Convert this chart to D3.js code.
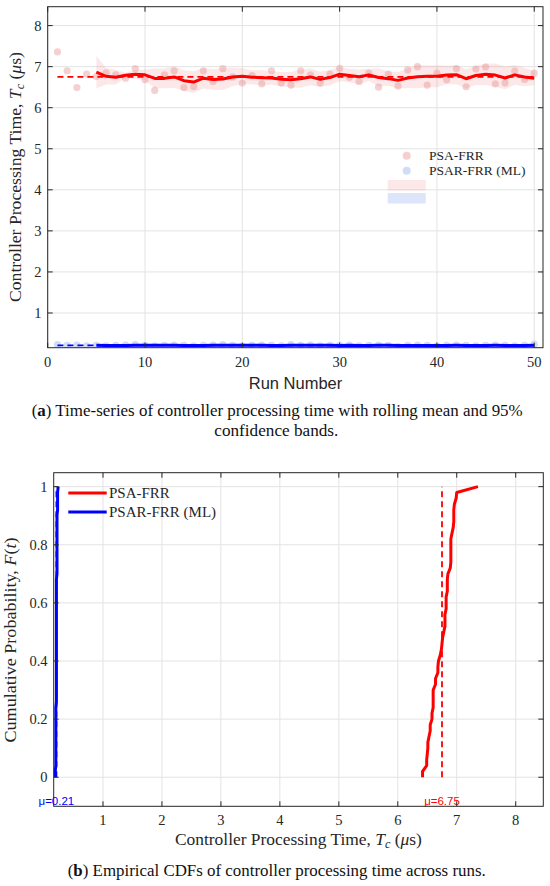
<!DOCTYPE html>
<html><head><meta charset="utf-8">
<script src="https://cdn.jsdelivr.net/npm/d3@7"></script>
<style>body{margin:0;background:#fff}svg{display:block}</style>
</head><body>
<svg id="c" width="550" height="886"></svg>
<script>
// ---- data ----
const runs = d3.range(1, 51);
const psaFRR = [7.36,6.90,6.49,6.82,6.76,6.85,6.80,6.72,6.95,6.68,
                6.42,6.80,6.90,6.49,6.51,6.90,6.64,6.95,6.75,6.60,
                6.78,6.58,6.90,6.60,6.55,6.90,6.80,6.60,6.82,6.96,
                6.74,6.64,6.84,6.50,6.82,6.53,6.92,7.00,6.55,6.84,
                6.68,6.95,6.51,6.94,6.99,6.58,6.60,6.89,6.69,6.84];
const psarFRR = [0.23,0.21,0.22,0.20,0.21,0.20,0.21,0.22,0.23,0.21,
                 0.20,0.21,0.22,0.21,0.20,0.21,0.22,0.23,0.21,0.20,
                 0.21,0.22,0.21,0.20,0.23,0.21,0.22,0.20,0.21,0.21,
                 0.22,0.20,0.21,0.22,0.21,0.19,0.21,0.22,0.21,0.20,
                 0.21,0.22,0.21,0.20,0.21,0.22,0.21,0.20,0.21,0.24];
const seriesNames = ["PSA-FRR", "PSAR-FRR (ML)"];
const meanValues = [6.75, 0.21];
const xTicksA = [0,10,20,30,40,50];
const yTicksA = [1,2,3,4,5,6,7,8];
const xTicksB = [1,2,3,4,5,6,7,8];
const yTicksB = [0,0.2,0.4,0.6,0.8,1];
const rollWindow = 5;
const tCrit = 2.776; // t(0.975, 4) for 95% band

const colors = ["#ff0000", "#0000ff"];
const ptColors = ["rgb(230,150,150)", "rgb(150,180,235)"];
const bandColors = ["rgba(235,120,120,0.17)", "rgba(120,150,235,0.25)"];
const series = [psaFRR, psarFRR];

const svg = d3.select("#c");
const serif = "'Liberation Serif', 'DejaVu Serif', serif";
const sans = "'Liberation Sans', Arial, sans-serif";

function rolling(vals) {
  const out = [];
  for (let i = rollWindow - 1; i < vals.length; i++) {
    const w = vals.slice(i - rollWindow + 1, i + 1);
    const m = d3.mean(w), s = d3.deviation(w);
    const h = tCrit * s / Math.sqrt(rollWindow);
    out.push({run: runs[i], m, lo: m - h, hi: m + h});
  }
  return out;
}

function frame(g, x, y, xt, yt) {
  const [x0, x1] = x.range(), [y0, y1] = y.range();
  g.append("g").selectAll("line").data(xt).join("line")
    .attr("x1", d => x(d)).attr("x2", d => x(d)).attr("y1", y0).attr("y2", y1)
    .attr("stroke", "#e3e3e3").attr("stroke-width", 1);
  g.append("g").selectAll("line").data(yt).join("line")
    .attr("y1", d => y(d)).attr("y2", d => y(d)).attr("x1", x0).attr("x2", x1)
    .attr("stroke", "#e3e3e3").attr("stroke-width", 1);
}

function axesOver(g, x, y, xt, yt, fmtY, xLabY, yLabX) {
  const [x0, x1] = x.range(), [y0, y1] = y.range();
  const tl = 5;
  const ax = g.append("g").attr("stroke", "#262626").attr("stroke-width", 1);
  ax.selectAll(".tb").data(xt).join("line").attr("class","tb")
    .attr("x1", d => x(d)).attr("x2", d => x(d)).attr("y1", y0).attr("y2", y0 - tl);
  ax.selectAll(".tt").data(xt).join("line").attr("class","tt")
    .attr("x1", d => x(d)).attr("x2", d => x(d)).attr("y1", y1).attr("y2", y1 + tl);
  ax.selectAll(".tlft").data(yt).join("line").attr("class","tlft")
    .attr("y1", d => y(d)).attr("y2", d => y(d)).attr("x1", x0).attr("x2", x0 + tl);
  ax.selectAll(".trt").data(yt).join("line").attr("class","trt")
    .attr("y1", d => y(d)).attr("y2", d => y(d)).attr("x1", x1).attr("x2", x1 - tl);
  g.append("rect").attr("x", x0).attr("y", y1).attr("width", x1 - x0).attr("height", y0 - y1)
    .attr("fill", "none").attr("stroke", "#262626").attr("stroke-width", 1);
  g.append("g").selectAll("text").data(xt).join("text")
    .attr("x", d => x(d)).attr("y", xLabY).attr("text-anchor", "middle")
    .attr("font-family", serif).attr("font-size", 14.5).attr("fill", "#262626").text(d => d);
  g.append("g").selectAll("text").data(yt).join("text")
    .attr("x", yLabX).attr("y", d => y(d)).attr("dy", "0.35em").attr("text-anchor", "end")
    .attr("font-family", serif).attr("font-size", 14.5).attr("fill", "#262626").text(fmtY);
}

function tcLabel(sel) {
  sel.append("tspan").text("Controller Processing Time, ");
  sel.append("tspan").attr("font-style", "italic").text("T");
  sel.append("tspan").attr("font-style", "italic").attr("font-size", 11.5).attr("dy", 3).text("c");
  sel.append("tspan").attr("dy", -3).text(" (");
  sel.append("tspan").attr("font-style", "italic").text("μ");
  sel.append("tspan").text("s)");
}

// ================= (a) time series =================
const xa = d3.scaleLinear().domain([0, 50.9]).range([47.7, 543]);
const ya = d3.scaleLinear().domain([0.155, 8.46]).range([347.7, 6.7]);
const ga = svg.append("g");
frame(ga, xa, ya, xTicksA, yTicksA);
svg.append("clipPath").attr("id", "clipA").append("rect")
  .attr("x", 47.7).attr("y", 6.7).attr("width", 543 - 47.7).attr("height", 341);
const pa = ga.append("g").attr("clip-path", "url(#clipA)");

series.forEach((vals, k) => {
  pa.append("path").datum(rolling(vals))
    .attr("d", d3.area().x(d => xa(d.run)).y0(d => ya(d.lo)).y1(d => ya(d.hi)))
    .attr("fill", bandColors[k]).attr("stroke", "none");
});
series.forEach((vals, k) => {
  pa.append("g").selectAll("circle").data(vals).join("circle")
    .attr("cx", (d, i) => xa(runs[i])).attr("cy", d => ya(d)).attr("r", 3.6)
    .attr("fill", ptColors[k]).attr("fill-opacity", 0.45);
});
series.forEach((vals, k) => {
  pa.append("line").attr("x1", xa(runs[0])).attr("x2", xa(runs[runs.length - 1]))
    .attr("y1", ya(meanValues[k])).attr("y2", ya(meanValues[k]))
    .attr("stroke", colors[k]).attr("stroke-width", 1.8).attr("stroke-dasharray", "6,4");
});
series.forEach((vals, k) => {
  pa.append("path").datum(rolling(vals))
    .attr("d", d3.line().x(d => xa(d.run)).y(d => ya(d.m)))
    .attr("fill", "none").attr("stroke", colors[k]).attr("stroke-width", 3)
    .attr("stroke-linejoin", "round");
});
axesOver(ga, xa, ya, xTicksA, yTicksA, d => d, 366.5, 41.5);

// legend (a)
const la = svg.append("g");
seriesNames.forEach((n, k) => {
  const yy = 155.7 + k * 15;
  la.append("circle").attr("cx", 406.7).attr("cy", yy).attr("r", 4)
    .attr("fill", ptColors[k]).attr("fill-opacity", 0.45);
  la.append("text").attr("x", 429).attr("y", yy).attr("dy", "0.35em")
    .attr("font-family", serif).attr("font-size", 13.5).attr("fill", "#262626").text(n);
  la.append("rect").attr("x", 387.7).attr("y", 180 + k * 13).attr("width", 38).attr("height", 10.5)
    .attr("fill", bandColors[k]);
});

// labels (a)
const yla = svg.append("text").attr("transform", "translate(21,177) rotate(-90)")
  .attr("text-anchor", "middle").attr("font-family", serif).attr("font-size", 16.5)
  .attr("textLength", 250).attr("lengthAdjust", "spacingAndGlyphs").attr("fill", "#262626");
tcLabel(yla);

svg.append("text").attr("x", 295.5).attr("y", 389).attr("text-anchor", "middle")
  .attr("font-family", sans).attr("font-size", 16.5).attr("fill", "#262626").text("Run Number");

const capA = svg.append("text").attr("x", 31.7).attr("y", 416)
  .attr("font-family", serif).attr("font-size", 16.5).attr("fill", "#111")
  .attr("textLength", 491).attr("lengthAdjust", "spacingAndGlyphs");
capA.append("tspan").text("(");
capA.append("tspan").attr("font-weight", "bold").text("a");
capA.append("tspan").text(") Time-series of controller processing time with rolling mean and 95%");
svg.append("text").attr("x", 276.3).attr("y", 436).attr("text-anchor", "middle")
  .attr("font-family", serif).attr("font-size", 16.5).attr("fill", "#111")
  .attr("textLength", 124).attr("lengthAdjust", "spacingAndGlyphs").text("confidence bands.");

// ================= (b) CDFs =================
const xb = d3.scaleLinear().domain([0.164, 8.468]).range([53.7, 543.3]);
const yb = d3.scaleLinear().domain([-0.1, 1.048]).range([806.3, 472.7]);
const gb = svg.append("g");
frame(gb, xb, yb, xTicksB, yTicksB);
svg.append("clipPath").attr("id", "clipB").append("rect")
  .attr("x", 53.7).attr("y", 472.7).attr("width", 543.3 - 53.7).attr("height", 806.3 - 472.7);
const pb = gb.append("g").attr("clip-path", "url(#clipB)");

function ecdf(vals) {
  const s = vals.slice().sort(d3.ascending);
  const pts = [{x: s[0], f: 0}];
  s.forEach((v, i) => pts.push({x: v, f: (i + 1) / s.length}));
  return pts;
}
series.forEach((vals, k) => {
  pb.append("line").attr("x1", xb(meanValues[k])).attr("x2", xb(meanValues[k]))
    .attr("y1", yb(0)).attr("y2", yb(1))
    .attr("stroke", colors[k]).attr("stroke-width", 1.8).attr("stroke-dasharray", "6,4");
});
series.forEach((vals, k) => {
  pb.append("path").datum(ecdf(vals))
    .attr("d", d3.line().x(d => xb(d.x)).y(d => yb(d.f)))
    .attr("fill", "none").attr("stroke", colors[k]).attr("stroke-width", 3)
    .attr("stroke-linejoin", "round");
});
series.forEach((vals, k) => {
  gb.append("text").attr("x", xb(meanValues[k])).attr("y", 805)
    .attr("text-anchor", "middle").attr("font-family", sans).attr("font-size", 11.5)
    .attr("fill", colors[k]).text("μ=" + meanValues[k].toFixed(2));
});
axesOver(gb, xb, yb, xTicksB, yTicksB, d => d, 825, 47.5);

// legend (b)
seriesNames.forEach((n, k) => {
  const yy = 493 + k * 19;
  svg.append("line").attr("x1", 68.3).attr("x2", 106.7).attr("y1", yy).attr("y2", yy)
    .attr("stroke", colors[k]).attr("stroke-width", 3);
  svg.append("text").attr("x", 109).attr("y", yy).attr("dy", "0.35em")
    .attr("font-family", serif).attr("font-size", 15).attr("fill", "#262626").text(n);
});

const ylb = svg.append("text").attr("transform", "translate(16,640) rotate(-90)")
  .attr("text-anchor", "middle").attr("font-family", serif).attr("font-size", 16.5)
  .attr("textLength", 205).attr("lengthAdjust", "spacingAndGlyphs").attr("fill", "#262626");
ylb.append("tspan").text("Cumulative Probability, ");
ylb.append("tspan").attr("font-style", "italic").text("F");
ylb.append("tspan").text("(");
ylb.append("tspan").attr("font-style", "italic").text("t");
ylb.append("tspan").text(")");

const xlb = svg.append("text").attr("x", 298.4).attr("y", 845).attr("text-anchor", "middle")
  .attr("font-family", serif).attr("font-size", 16.5)
  .attr("textLength", 247).attr("lengthAdjust", "spacingAndGlyphs").attr("fill", "#262626");
tcLabel(xlb);

const capB = svg.append("text").attr("x", 276.7).attr("y", 876).attr("text-anchor", "middle")
  .attr("font-family", serif).attr("font-size", 16.5).attr("fill", "#111")
  .attr("textLength", 418).attr("lengthAdjust", "spacingAndGlyphs");
capB.append("tspan").text("(");
capB.append("tspan").attr("font-weight", "bold").text("b");
capB.append("tspan").text(") Empirical CDFs of controller processing time across runs.");
</script>
</body></html>
